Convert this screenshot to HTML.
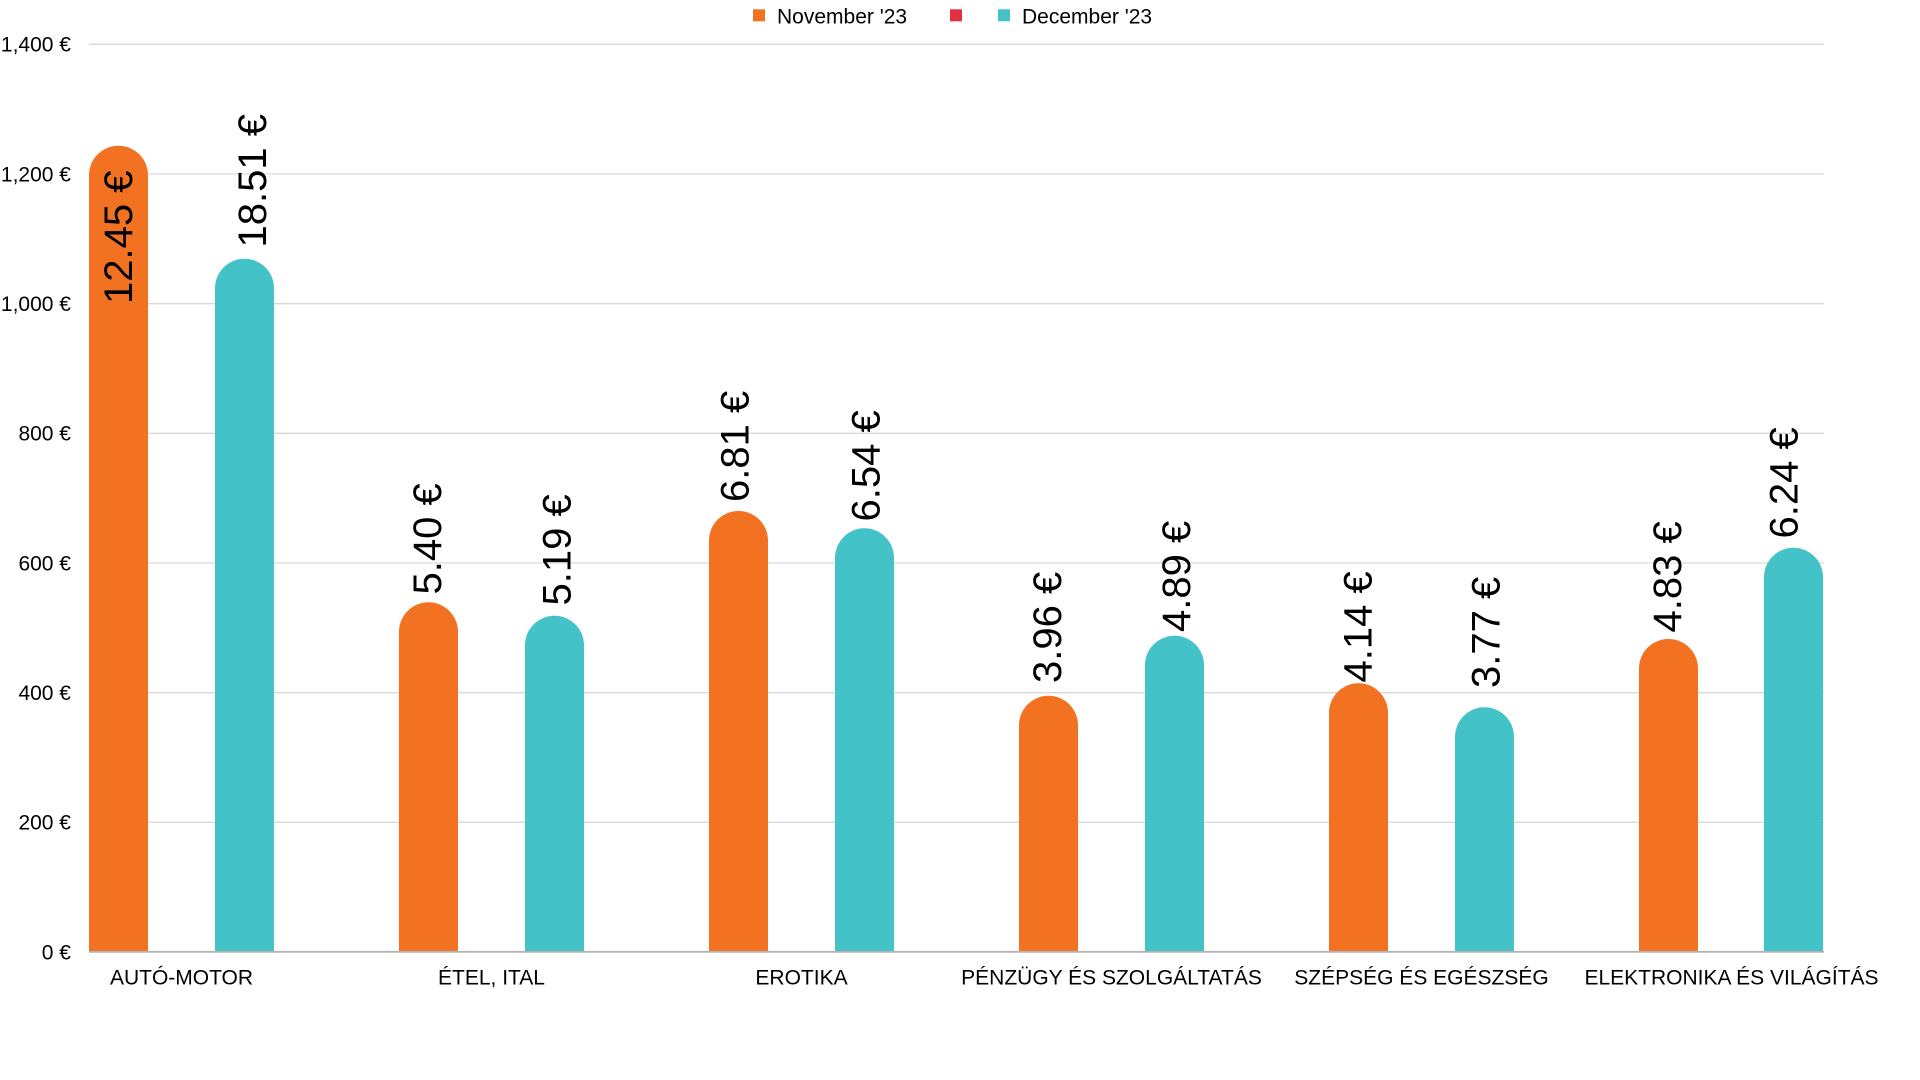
<!DOCTYPE html>
<html>
<head>
<meta charset="utf-8">
<style>
  html, body { margin:0; padding:0; background:#ffffff; }
  body { width:1920px; height:1080px; overflow:hidden; }
  svg { display:block; }
  text { font-family: "Liberation Sans", Arial, sans-serif; fill:#000; }
</style>
</head>
<body>
<svg width="1920" height="1080" viewBox="0 0 1920 1080" xmlns="http://www.w3.org/2000/svg">
  <rect width="1920" height="1080" fill="#ffffff"/>

  <!-- gridlines -->
  <g stroke="#d9d9d9" stroke-width="1.3">
    <line x1="89" y1="44.3" x2="1824" y2="44.3"/>
    <line x1="89" y1="174" x2="1824" y2="174"/>
    <line x1="89" y1="303.7" x2="1824" y2="303.7"/>
    <line x1="89" y1="433.3" x2="1824" y2="433.3"/>
    <line x1="89" y1="563" x2="1824" y2="563"/>
    <line x1="89" y1="692.7" x2="1824" y2="692.7"/>
    <line x1="89" y1="822.3" x2="1824" y2="822.3"/>
  </g>

  <!-- y labels -->
  <g font-size="21" text-anchor="end">
    <text x="71" y="51.6">1,400 €</text>
    <text x="71" y="181.3">1,200 €</text>
    <text x="71" y="311">1,000 €</text>
    <text x="71" y="440.6">800 €</text>
    <text x="71" y="570.3">600 €</text>
    <text x="71" y="700">400 €</text>
    <text x="71" y="829.6">200 €</text>
    <text x="71" y="959.3">0 €</text>
  </g>

  <!-- bars -->
  <g fill="#F37222">
    <path d="M89,952 V175.2 A29.5,29.5 0 0 1 148,175.2 V952 Z"/>
    <path d="M399,952 V631.8 A29.5,29.5 0 0 1 458,631.8 V952 Z"/>
    <path d="M709,952 V540.5 A29.5,29.5 0 0 1 768,540.5 V952 Z"/>
    <path d="M1019,952 V725.2 A29.5,29.5 0 0 1 1078,725.2 V952 Z"/>
    <path d="M1329,952 V712.8 A29.5,29.5 0 0 1 1388,712.8 V952 Z"/>
    <path d="M1639,952 V668.5 A29.5,29.5 0 0 1 1698,668.5 V952 Z"/>
  </g>
  <g fill="#43C2C7">
    <path d="M215,952 V288.2 A29.5,29.5 0 0 1 274,288.2 V952 Z"/>
    <path d="M525,952 V645.2 A29.5,29.5 0 0 1 584,645.2 V952 Z"/>
    <path d="M835,952 V557.8 A29.5,29.5 0 0 1 894,557.8 V952 Z"/>
    <path d="M1145,952 V665.2 A29.5,29.5 0 0 1 1204,665.2 V952 Z"/>
    <path d="M1455,952 V736.8 A29.5,29.5 0 0 1 1514,736.8 V952 Z"/>
    <path d="M1764,952 V577.2 A29.5,29.5 0 0 1 1823,577.2 V952 Z"/>
  </g>

  <!-- axis line -->
  <line x1="89" y1="951.8" x2="1824" y2="951.8" stroke="#b3b3b3" stroke-width="1.8"/>

  <!-- value labels (rotated) -->
  <g font-size="40" text-anchor="start">
    <text transform="translate(132,304) rotate(-90)">12.45 €</text>
    <text transform="translate(266,247.5) rotate(-90)">18.51 €</text>
    <text transform="translate(441,594.5) rotate(-90)">5.40 €</text>
    <text transform="translate(570.7,605.5) rotate(-90)">5.19 €</text>
    <text transform="translate(748.3,502) rotate(-90)">6.81 €</text>
    <text transform="translate(879.3,521.5) rotate(-90)">6.54 €</text>
    <text transform="translate(1061,683) rotate(-90)">3.96 €</text>
    <text transform="translate(1190,632) rotate(-90)">4.89 €</text>
    <text transform="translate(1371.7,682.5) rotate(-90)">4.14 €</text>
    <text transform="translate(1499.3,688) rotate(-90)">3.77 €</text>
    <text transform="translate(1681,632.5) rotate(-90)">4.83 €</text>
    <text transform="translate(1797.7,538.5) rotate(-90)">6.24 €</text>
  </g>

  <!-- x labels -->
  <g font-size="21" text-anchor="middle">
    <text x="181.5" y="984.3">AUTÓ-MOTOR</text>
    <text x="491.5" y="984.3">ÉTEL, ITAL</text>
    <text x="801.5" y="984.3">EROTIKA</text>
    <text x="1111.5" y="984.3">PÉNZÜGY ÉS SZOLGÁLTATÁS</text>
    <text x="1421.5" y="984.3">SZÉPSÉG ÉS EGÉSZSÉG</text>
    <text x="1731.5" y="984.3">ELEKTRONIKA ÉS VILÁGÍTÁS</text>
  </g>

  <!-- legend -->
  <rect x="753" y="9.3" width="12" height="12" fill="#F37222"/>
  <text x="777" y="23.3" font-size="21">November '23</text>
  <rect x="950" y="9.3" width="12" height="12" fill="#E0313F"/>
  <rect x="998" y="9.3" width="12" height="12" fill="#43C2C7"/>
  <text x="1022" y="23.3" font-size="21">December '23</text>
</svg>
</body>
</html>
